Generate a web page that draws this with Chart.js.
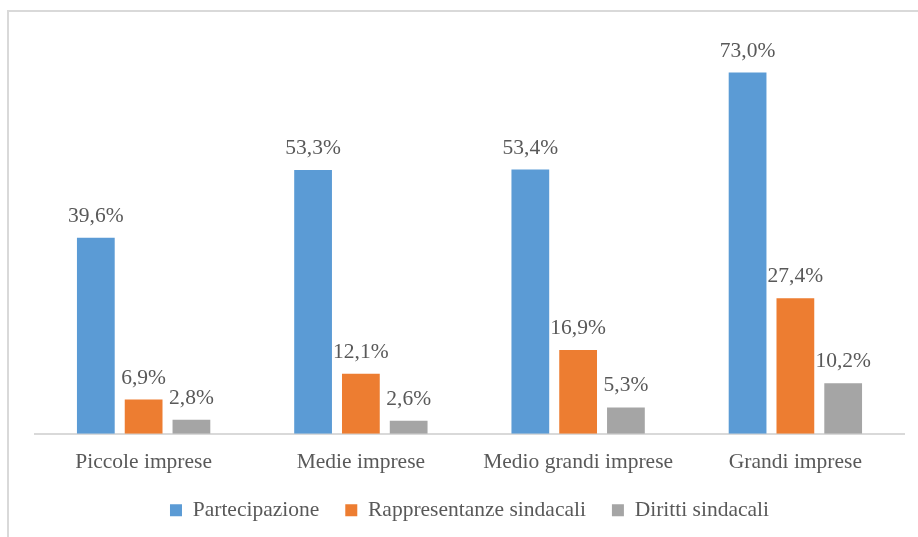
<!DOCTYPE html>
<html>
<head>
<meta charset="utf-8">
<script src="https://cdn.jsdelivr.net/npm/chart.js@4"></script>
<style>
  body { margin: 0; background: #fff; }
  #wrap { position: relative; width: 918px; height: 537px; overflow: hidden; }
  #frame { position: absolute; left: 7px; top: 10px; width: 940px; height: 560px;
           border-left: 2px solid #d9d9d9; border-top: 2px solid #d9d9d9; }
  canvas { position: absolute; left: 0; top: 0; }
</style>
</head>
<body>
<div id="wrap">
  <div id="frame"></div>
  <canvas id="chart" width="918" height="537"></canvas>
</div>
<script>
// Dati
const categories = ['Piccole imprese', 'Medie imprese', 'Medio grandi imprese', 'Grandi imprese'];
const partecipazione = [39.6, 53.3, 53.4, 73.0];
const rappresentanze = [6.9, 12.1, 16.9, 27.4];
const diritti = [2.8, 2.6, 5.3, 10.2];

const textColor = '#595959';
const fontFamily = '"Liberation Serif", "DejaVu Serif", serif';
const fontSize = 21.5;

// Etichette sopra le barre
const barLabels = {
    id: 'barLabels',
    afterDatasetsDraw(chart) {
        const ctx = chart.ctx;
        ctx.save();
        ctx.font = fontSize + 'px ' + fontFamily;
        ctx.fillStyle = textColor;
        ctx.textAlign = 'center';
        ctx.textBaseline = 'alphabetic';
        chart.data.datasets.forEach((ds, i) => {
            const meta = chart.getDatasetMeta(i);
            meta.data.forEach((bar, j) => {
                const txt = ds.data[j].toFixed(1).replace('.', ',') + '%';
                ctx.fillText(txt, bar.x, bar.y - 16);
            });
        });
        ctx.restore();
    }
};

// legenda piu' compatta in verticale, come in Excel
const legendFit = {
    id: 'legendFit',
    beforeInit(chart) {
        const origFit = chart.legend.fit;
        chart.legend.fit = function() {
            origFit.bind(chart.legend)();
            this.height -= 22;
        };
    },
    afterLayout(chart) {
        chart.legend.top -= 18;
    }
};

new Chart(document.getElementById('chart'), {
    type: 'bar',
    data: {
        labels: categories,
        datasets: [
            { label: 'Partecipazione', data: partecipazione, backgroundColor: '#5b9bd5' },
            { label: 'Rappresentanze sindacali', data: rappresentanze, backgroundColor: '#ed7d31' },
            { label: 'Diritti sindacali', data: diritti, backgroundColor: '#a5a5a5' }
        ]
    },
    options: {
        responsive: false,
        animation: false,
        devicePixelRatio: 1,
        layout: { padding: { left: 35, right: 14, top: 38, bottom: 10 } },
        datasets: {
            bar: { barPercentage: 0.79, categoryPercentage: 0.66 }
        },
        scales: {
            x: {
                grid: { display: false, drawTicks: false },
                border: { color: '#d9d9d9', width: 2 },
                ticks: { color: textColor, font: { family: fontFamily, size: fontSize }, padding: 16 }
            },
            y: { display: false, min: 0, max: 80 }
        },
        plugins: {
            legend: {
                position: 'bottom',
                labels: {
                    color: textColor,
                    font: { family: fontFamily, size: fontSize },
                    boxWidth: 12,
                    boxHeight: 12,
                    padding: 26
                }
            },
            tooltip: { enabled: false }
        }
    },
    plugins: [barLabels, legendFit]
});
</script>
</body>
</html>
